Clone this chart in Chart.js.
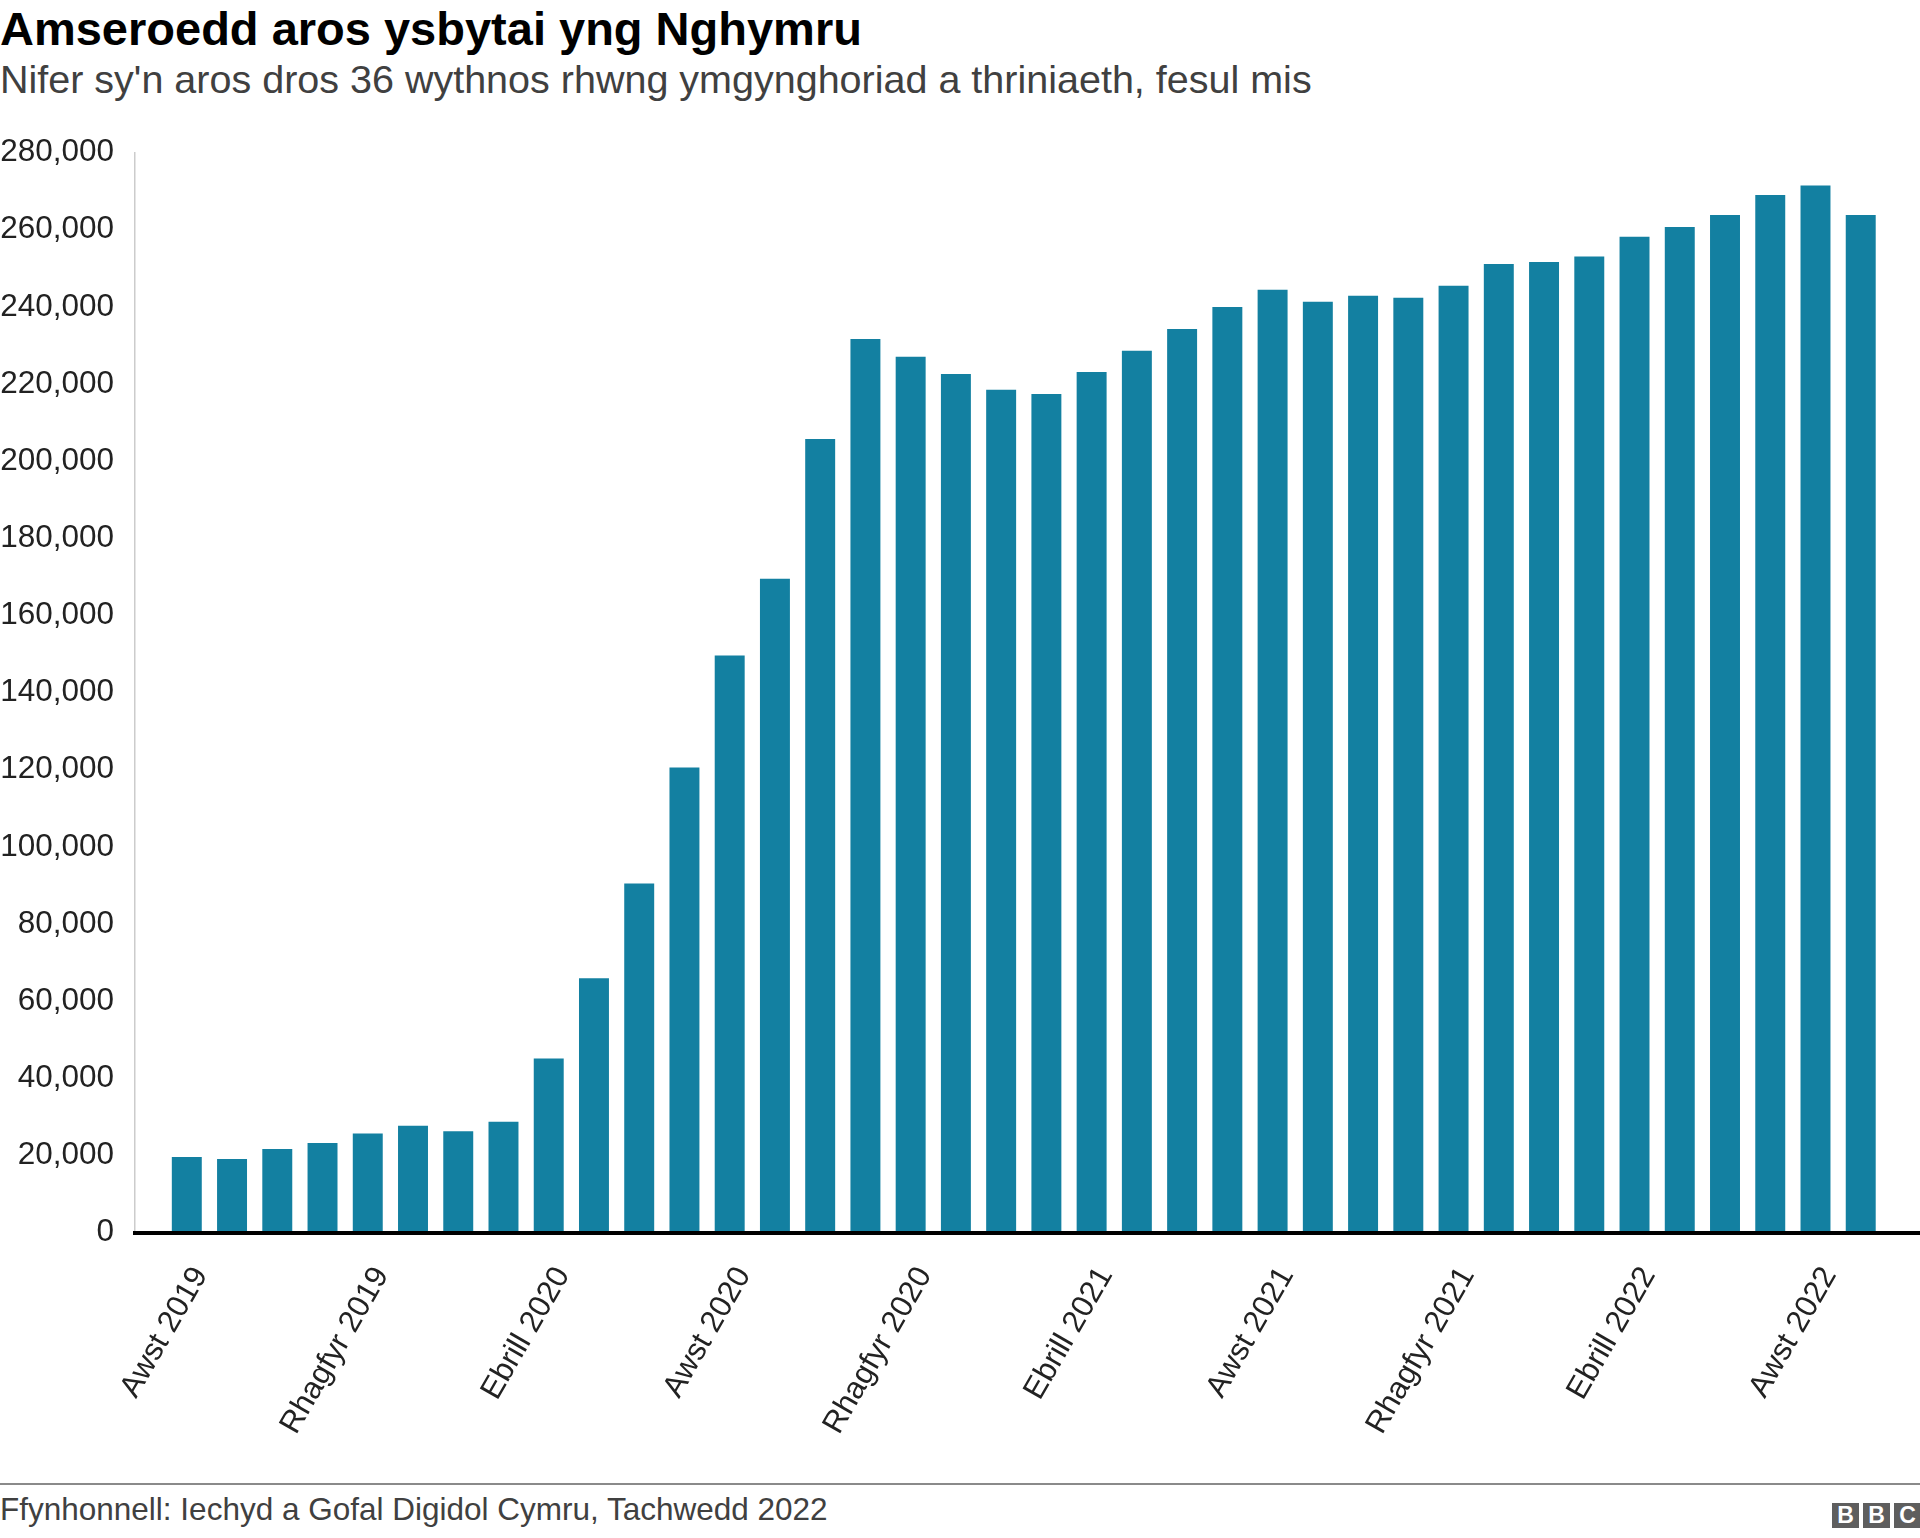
<!DOCTYPE html>
<html>
<head>
<meta charset="utf-8">
<script src="https://cdn.jsdelivr.net/npm/chart.js@4.4.1/dist/chart.umd.min.js"></script>
<style>
  html, body { margin: 0; padding: 0; background: #fff; }
  body { width: 1920px; height: 1538px; position: relative; overflow: hidden;
         font-family: "Liberation Sans", Arial, Helvetica, sans-serif; }
  #title { position: absolute; left: 0; top: 5px; font-size: 47px; line-height: 47px;
           font-weight: bold; color: #000; white-space: nowrap; }
  #subtitle { position: absolute; left: 0; top: 60px; font-size: 39.5px; line-height: 39.5px;
              color: #404040; white-space: nowrap; }
  #wrap { position: absolute; left: 0; top: 100px; width: 1920px; height: 1380px; }
  #rule { position: absolute; left: 0; top: 1483px; width: 1920px; height: 2px; background: #8a8a8a; }
  #source { position: absolute; left: 0; top: 1494px; font-size: 31.5px; line-height: 31.5px;
            color: #404040; white-space: nowrap; }
  #bbc { position: absolute; left: 1832px; top: 1503px; height: 25px; display: flex; gap: 4px; }
  #bbc span { display: block; width: 27px; height: 25px; background: #5e5e5e; color: #fff;
              font-weight: bold; font-size: 23px; line-height: 25px; text-align: center; }
</style>
</head>
<body>
<div id="title">Amseroedd aros ysbytai yng Nghymru</div>
<div id="subtitle">Nifer sy'n aros dros 36 wythnos rhwng ymgynghoriad a thriniaeth, fesul mis</div>
<div id="wrap"><canvas id="c"></canvas></div>
<div id="rule"></div>
<div id="source">Ffynhonnell: Iechyd a Gofal Digidol Cymru, Tachwedd 2022</div>
<div id="bbc"><span>B</span><span>B</span><span>C</span></div>
<script>
// Months (Aug 2019 – Sep 2022)
const months = [
  'Awst 2019','Medi 2019','Hydref 2019','Tachwedd 2019','Rhagfyr 2019',
  'Ionawr 2020','Chwefror 2020','Mawrth 2020','Ebrill 2020','Mai 2020','Mehefin 2020','Gorffennaf 2020',
  'Awst 2020','Medi 2020','Hydref 2020','Tachwedd 2020','Rhagfyr 2020',
  'Ionawr 2021','Chwefror 2021','Mawrth 2021','Ebrill 2021','Mai 2021','Mehefin 2021','Gorffennaf 2021',
  'Awst 2021','Medi 2021','Hydref 2021','Tachwedd 2021','Rhagfyr 2021',
  'Ionawr 2022','Chwefror 2022','Mawrth 2022','Ebrill 2022','Mai 2022','Mehefin 2022','Gorffennaf 2022',
  'Awst 2022','Medi 2022'
];
// Number waiting over 36 weeks
const waiting = [
  19540, 19020, 21610, 23170, 25660,
  27650, 26180, 28690, 45050, 65860, 90410, 120480,
  149530, 169440, 205650, 231570, 226980,
  222500, 218430, 217310, 223020, 228540, 234160, 239870,
  244350, 241240, 242800, 242280, 245390,
  251010, 251530, 252980, 258090, 260600, 263710, 268900,
  271390, 263710
];
// Labelled months on the x axis
const xTickLabels = ['Awst 2019','Rhagfyr 2019','Ebrill 2020','Awst 2020','Rhagfyr 2020',
                     'Ebrill 2021','Awst 2021','Rhagfyr 2021','Ebrill 2022','Awst 2022'];
const yTicks = [0, 20000, 40000, 60000, 80000, 100000, 120000, 140000,
                160000, 180000, 200000, 220000, 240000, 260000, 280000];

const points = waiting.map((v, i) => ({ x: i, y: v }));
const xTickIdx = xTickLabels.map(l => months.indexOf(l));

const canvas = document.getElementById('c');
new Chart(canvas, {
  type: 'bar',
  data: {
    datasets: [{
      data: points,
      backgroundColor: '#1380A1',
      borderWidth: 0,
      barThickness: 29.3
    }]
  },
  options: {
    responsive: true,
    maintainAspectRatio: false,
    animation: false,
    events: [],
    layout: { padding: { top: 52.5, right: 0, bottom: 0, left: 0 } },
    plugins: { legend: { display: false }, tooltip: { enabled: false }, title: { display: false } },
    scales: {
      x: {
        type: 'linear',
        offset: false,
        min: -1.156,
        max: 38.31,
        afterBuildTicks: s => { s.ticks = xTickIdx.map(v => ({ value: v })); },
        afterFit: s => { s.height = 247.3; },
        grid: { offset: false, drawOnChartArea: false, drawTicks: false },
        border: { display: true, color: '#000', width: 4, z: 1 },
        ticks: {
          autoSkip: false,
          minRotation: 60,
          maxRotation: 60,
          padding: 28,
          labelOffset: 14,
          color: '#222',
          font: { family: '"Liberation Sans", Arial, sans-serif', size: 31 },
          callback: v => months[v]
        }
      },
      y: {
        min: 0,
        max: 280000,
        afterBuildTicks: s => { s.ticks = yTicks.map(v => ({ value: v })); },
        afterFit: s => { s.width = 134.5; },
        grid: { drawOnChartArea: false, drawTicks: false },
        border: { display: true, color: '#cccccc', width: 1.5 },
        ticks: {
          padding: 20.5,
          color: '#222',
          font: { family: '"Liberation Sans", Arial, sans-serif', size: 31.5 },
          callback: v => v.toLocaleString('en-GB')
        }
      }
    }
  }
});
</script>
</body>
</html>
